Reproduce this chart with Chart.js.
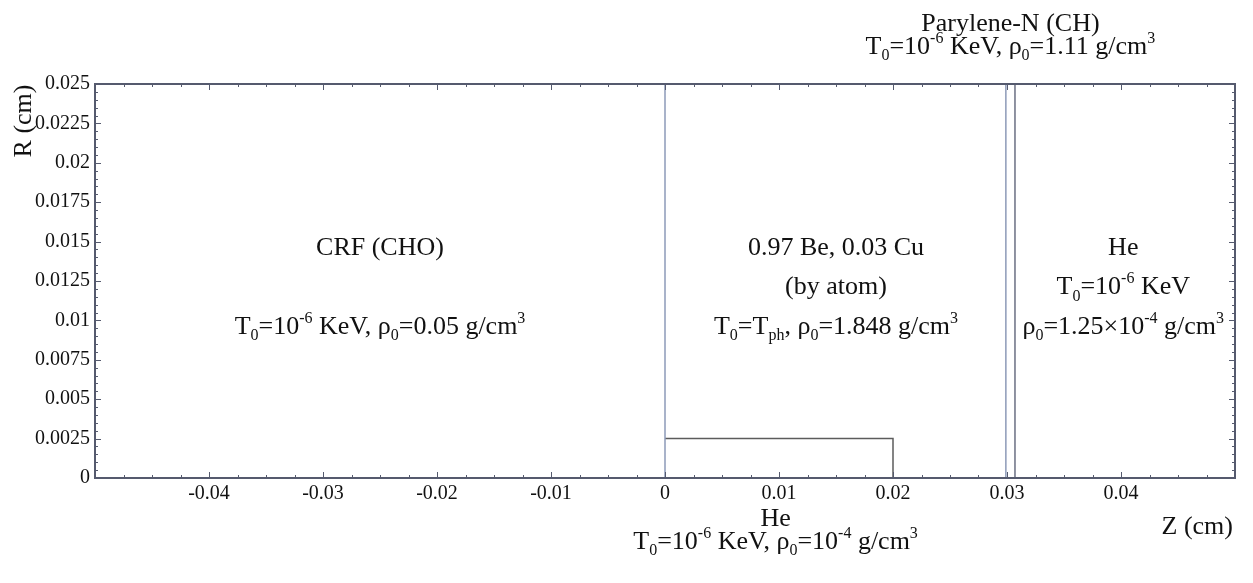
<!DOCTYPE html>
<html>
<head>
<meta charset="utf-8">
<script src="https://cdn.jsdelivr.net/npm/chart.js@4.4.0/dist/chart.umd.min.js"></script>
<style>
  html, body { margin: 0; padding: 0; background: #fff; }
</style>
</head>
<body>
<canvas id="geom" width="1253" height="583"></canvas>
<script>
// axis tick labels
const zTickLabels = ['-0.04', '-0.03', '-0.02', '-0.01', '0', '0.01', '0.02', '0.03', '0.04'];
const rTickLabels = ['0', '0.0025', '0.005', '0.0075', '0.01', '0.0125', '0.015', '0.0175', '0.02', '0.0225', '0.025'];

// layer boundaries (Z, R in cm)
const beFaceZ = [0, 0];
const beFaceR = [0, 0.025];
const heBoxZ = [0, 0.02, 0.02];
const heBoxR = [0.0025, 0.0025, 0];
const paryleneInZ = [0.0299, 0.0299];
const paryleneOutZ = [0.0307, 0.0307];
const paryleneR = [0, 0.025];

// region labels: text pieces, '' = normal, 'sub' / 'sup'
const crfName = [['CRF (CHO)']];
const crfState = [['T'], ['0', 'sub'], ['=10'], ['-6', 'sup'], [' KeV, ρ'], ['0', 'sub'], ['=0.05 g/cm'], ['3', 'sup']];
const beName = [['0.97 Be, 0.03 Cu']];
const beNote = [['(by atom)']];
const beState = [['T'], ['0', 'sub'], ['=T'], ['ph', 'sub'], [', ρ'], ['0', 'sub'], ['=1.848 g/cm'], ['3', 'sup']];
const heName = [['He']];
const heTemp = [['T'], ['0', 'sub'], ['=10'], ['-6', 'sup'], [' KeV']];
const heDens = [['ρ'], ['0', 'sub'], ['=1.25×10'], ['-4', 'sup'], [' g/cm'], ['3', 'sup']];
const paryName = [['Parylene-N (CH)']];
const paryState = [['T'], ['0', 'sub'], ['=10'], ['-6', 'sup'], [' KeV, ρ'], ['0', 'sub'], ['=1.11 g/cm'], ['3', 'sup']];
const gapName = [['He']];
const gapState = [['T'], ['0', 'sub'], ['=10'], ['-6', 'sup'], [' KeV, ρ'], ['0', 'sub'], ['=10'], ['-4', 'sup'], [' g/cm'], ['3', 'sup']];

const FONT = '"Liberation Serif", "Times New Roman", serif';

function pts(zs, rs) {
  return zs.map((z, i) => ({ x: z, y: rs[i] }));
}

function drawRich(ctx, parts, cx, cy, size, align) {
  const big = size + 'px ' + FONT;
  const small = Math.round(size * 0.62) + 'px ' + FONT;
  let w = 0;
  for (const [t, m] of parts) {
    ctx.font = m ? small : big;
    w += ctx.measureText(t).width;
  }
  let xx = align === 'right' ? cx - w : cx - w / 2;
  const base = cy + size * 0.33;
  ctx.textAlign = 'left';
  ctx.textBaseline = 'alphabetic';
  for (const [t, m] of parts) {
    ctx.font = m ? small : big;
    const dy = m === 'sub' ? size * 0.25 : m === 'sup' ? -size * 0.42 : 0;
    ctx.fillText(t, xx, base + dy);
    xx += ctx.measureText(t).width;
  }
}

const frameAndText = {
  id: 'frameAndText',
  afterDraw(chart) {
    const { ctx, chartArea: a, scales: { x, y } } = chart;
    ctx.save();

    // inward ticks on all four sides
    ctx.strokeStyle = '#555a6e';
    ctx.lineWidth = 1;
    ctx.beginPath();
    for (let i = -20; i <= 20; i++) {
      const px = Math.round(x.getPixelForValue(i * 0.0025)) + 0.5;
      const len = i % 4 === 0 ? 6 : 3;
      ctx.moveTo(px, a.bottom); ctx.lineTo(px, a.bottom - len);
      ctx.moveTo(px, a.top); ctx.lineTo(px, a.top + len);
    }
    for (let i = 0; i <= 50; i++) {
      const py = Math.round(y.getPixelForValue(i * 0.0005)) + 0.5;
      const len = i % 5 === 0 ? 6 : 3;
      ctx.moveTo(a.left, py); ctx.lineTo(a.left + len, py);
      ctx.moveTo(a.right, py); ctx.lineTo(a.right - len, py);
    }
    ctx.stroke();

    // frame
    ctx.lineWidth = 2;
    ctx.strokeRect(a.left, a.top, a.right - a.left, a.bottom - a.top);

    ctx.fillStyle = '#111';
    const S = 26;
    const X = v => x.getPixelForValue(v);
    const Y = v => y.getPixelForValue(v);

    drawRich(ctx, crfName, X(-0.025), Y(0.0147), S);
    drawRich(ctx, crfState, X(-0.025), Y(0.0097), S);
    drawRich(ctx, beName, X(0.015), Y(0.0147), S);
    drawRich(ctx, beNote, X(0.015), Y(0.0122), S);
    drawRich(ctx, beState, X(0.015), Y(0.0097), S);
    drawRich(ctx, heName, X(0.0402), Y(0.0147), S);
    drawRich(ctx, heTemp, X(0.0402), Y(0.0122), S);
    drawRich(ctx, heDens, X(0.0402), Y(0.0097), S);

    // outside the frame
    drawRich(ctx, paryName, X(0.0303), a.top - 62, S);
    drawRich(ctx, paryState, X(0.0303), a.top - 39, S);
    drawRich(ctx, gapName, X(0.0097), a.bottom + 39, S);
    drawRich(ctx, gapState, X(0.0097), a.bottom + 62, S);

    // axis titles
    drawRich(ctx, [['Z (cm)']], a.right - 2, a.bottom + 47, S, 'right');
    ctx.translate(22, 121);
    ctx.rotate(-Math.PI / 2);
    drawRich(ctx, [['R (cm)']], 0, 0, S);

    ctx.restore();
  }
};

const lineStyle = (color, w) => ({
  showLine: true,
  borderColor: color,
  borderWidth: w,
  pointRadius: 0,
  fill: false,
  tension: 0
});

new Chart(document.getElementById('geom').getContext('2d'), {
  type: 'scatter',
  data: {
    datasets: [
      { label: 'Be face', data: pts(beFaceZ, beFaceR), ...lineStyle('#8d9ab8', 1.5) },
      { label: 'He box', data: pts(heBoxZ, heBoxR), ...lineStyle('#5c5c5c', 1.5) },
      { label: 'Parylene in', data: pts(paryleneInZ, paryleneR), ...lineStyle('#8d9ab8', 1.5) },
      { label: 'Parylene out', data: pts(paryleneOutZ, paryleneR), ...lineStyle('#6a6f82', 1.5) }
    ]
  },
  options: {
    responsive: false,
    animation: false,
    layout: { padding: { left: 0, right: 18, top: 84, bottom: 0 } },
    plugins: { legend: { display: false }, tooltip: { enabled: false } },
    scales: {
      x: {
        type: 'linear',
        min: -0.05,
        max: 0.05,
        grid: { display: false, drawTicks: false },
        border: { display: false },
        afterFit: s => { s.height = 105; },
        ticks: {
          stepSize: 0.01,
          padding: 4,
          maxRotation: 0,
          autoSkip: false,
          color: '#111',
          font: { family: FONT, size: 20 },
          callback: v => zTickLabels.find(t => Math.abs(+t - v) < 1e-9) || ''
        }
      },
      y: {
        type: 'linear',
        min: 0,
        max: 0.025,
        grid: { display: false, drawTicks: false },
        border: { display: false },
        afterFit: s => { s.width = 95; },
        ticks: {
          stepSize: 0.0025,
          padding: 5,
          autoSkip: false,
          color: '#111',
          font: { family: FONT, size: 20 },
          callback: v => rTickLabels.find(t => Math.abs(+t - v) < 1e-9) || ''
        }
      }
    }
  },
  plugins: [frameAndText]
});
</script>
</body>
</html>
